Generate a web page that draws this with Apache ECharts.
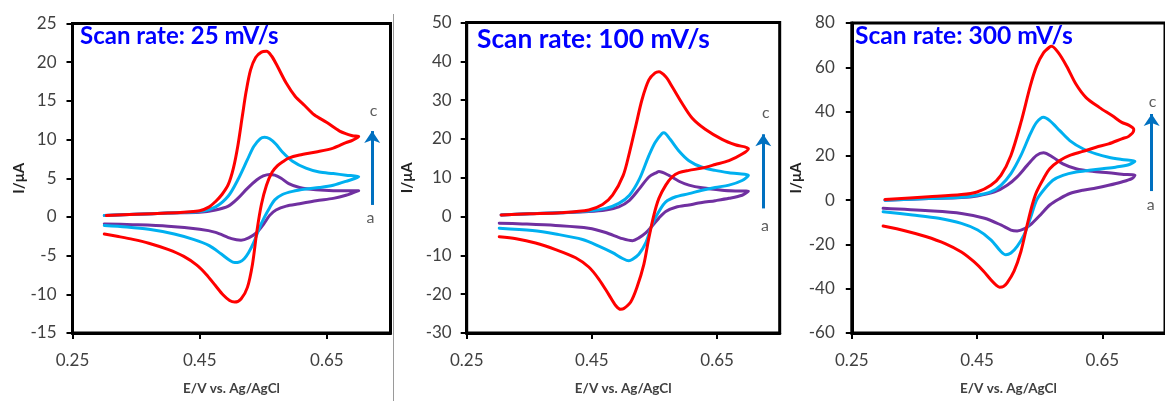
<!DOCTYPE html>
<html>
<head>
<meta charset="utf-8">
<script src="https://cdn.jsdelivr.net/npm/echarts@6/dist/echarts.min.js"></script>
<style>
  html, body { margin: 0; padding: 0; background: #fff; }
  #chart { width: 1165px; height: 401px; }
</style>
</head>
<body>
<div id="chart"></div>
<script>
// Cyclic voltammograms, [E (V vs. Ag/AgCl), I (uA)], forward sweep then reverse sweep.
// a = lowest concentration (purple), b = middle (cyan), c = highest (red).

// 25 mV/s
const cv25_a = [[0.30,0.2],[0.35,0.35],[0.40,0.5],[0.45,0.6],[0.475,0.9],[0.495,1.4],[0.51,2.4],[0.525,3.7],[0.54,4.8],[0.55,5.3],[0.56,5.5],[0.568,5.4],[0.578,5.0],[0.59,4.3],[0.607,3.8],[0.633,3.5],[0.66,3.4],[0.70,3.4],
  [0.68,2.8],[0.66,2.4],[0.633,2.1],[0.607,1.7],[0.586,1.4],[0.57,0.9],[0.56,0.2],[0.55,-1.0],[0.54,-2.0],[0.527,-2.7],[0.515,-3.0],[0.50,-2.8],[0.475,-2.0],[0.45,-1.6],[0.40,-1.2],[0.345,-1.0],[0.30,-0.9]];
const cv25_b = [[0.30,0.2],[0.35,0.35],[0.40,0.5],[0.45,0.7],[0.475,1.3],[0.495,2.7],[0.51,4.8],[0.525,7.4],[0.535,9.1],[0.545,10.1],[0.552,10.3],[0.56,10.1],[0.57,9.4],[0.58,8.4],[0.596,7.2],[0.617,6.3],[0.638,5.8],[0.66,5.6],[0.68,5.4],[0.70,5.2],
  [0.68,4.6],[0.66,4.1],[0.638,3.8],[0.617,3.6],[0.596,3.3],[0.58,2.9],[0.568,2.2],[0.56,1.2],[0.552,0.0],[0.543,-1.6],[0.535,-3.3],[0.527,-4.6],[0.52,-5.4],[0.513,-5.8],[0.505,-5.9],[0.497,-5.6],[0.484,-4.8],[0.465,-3.7],[0.44,-2.9],[0.41,-2.2],[0.37,-1.6],[0.335,-1.3],[0.30,-1.1]];
const cv25_c = [[0.303,0.2],[0.35,0.35],[0.40,0.5],[0.43,0.65],[0.45,0.8],[0.465,1.3],[0.475,2.0],[0.485,2.9],[0.495,4.2],[0.503,6.3],[0.51,9.2],[0.517,13.0],[0.523,16.2],[0.53,19.0],[0.538,20.6],[0.547,21.3],[0.555,21.4],[0.563,20.8],[0.572,19.5],[0.586,17.3],[0.60,15.6],[0.615,14.4],[0.63,13.2],[0.65,12.2],[0.67,11.1],[0.69,10.5],[0.70,10.4],
  [0.69,9.9],[0.68,9.6],[0.66,8.9],[0.633,8.4],[0.607,8.0],[0.59,7.6],[0.58,7.1],[0.572,6.6],[0.564,5.8],[0.555,4.1],[0.547,1.6],[0.54,-1.8],[0.533,-6.1],[0.525,-9.1],[0.515,-10.6],[0.505,-11.0],[0.497,-10.8],[0.487,-10.1],[0.475,-8.9],[0.46,-7.4],[0.445,-6.2],[0.425,-5.1],[0.40,-4.2],[0.37,-3.4],[0.345,-2.9],[0.32,-2.5],[0.30,-2.2]];

// 100 mV/s
const cv100_a = [[0.305,0.4],[0.35,0.7],[0.40,1.0],[0.445,1.3],[0.472,1.7],[0.493,2.5],[0.51,4.2],[0.526,7.2],[0.541,10.2],[0.554,11.4],[0.557,11.6],[0.573,10.6],[0.589,9.1],[0.605,8.1],[0.626,7.4],[0.658,6.8],[0.679,6.6],[0.70,6.5],
  [0.69,5.5],[0.669,4.7],[0.647,4.1],[0.626,3.6],[0.605,3.0],[0.584,2.4],[0.568,1.3],[0.557,-0.4],[0.546,-2.5],[0.536,-4.2],[0.525,-5.5],[0.515,-6.2],[0.499,-5.7],[0.472,-4.1],[0.445,-3.0],[0.392,-2.3],[0.339,-1.9],[0.302,-1.7]];
const cv100_b = [[0.305,0.4],[0.35,0.7],[0.40,1.0],[0.445,1.4],[0.472,2.1],[0.493,3.4],[0.51,5.5],[0.526,9.7],[0.541,15.7],[0.551,19.1],[0.562,21.4],[0.565,21.6],[0.575,19.9],[0.589,16.9],[0.605,14.4],[0.626,12.7],[0.647,11.9],[0.669,11.3],[0.70,10.6],
  [0.69,9.3],[0.669,8.1],[0.647,7.5],[0.626,6.8],[0.605,5.9],[0.584,5.1],[0.568,3.8],[0.557,1.3],[0.546,-2.1],[0.536,-6.8],[0.525,-9.7],[0.515,-11.0],[0.509,-11.4],[0.499,-10.8],[0.483,-9.3],[0.461,-7.6],[0.435,-5.9],[0.392,-4.5],[0.355,-3.6],[0.302,-3.0]];
const cv100_c = [[0.305,0.4],[0.35,0.7],[0.40,1.0],[0.445,1.7],[0.467,3.1],[0.483,5.5],[0.50,10.6],[0.51,16.5],[0.52,23.3],[0.53,30.1],[0.541,35.2],[0.551,37.0],[0.557,37.3],[0.568,36.0],[0.578,33.5],[0.594,29.2],[0.61,25.4],[0.631,22.5],[0.658,19.9],[0.679,18.5],[0.70,17.5],
  [0.69,16.1],[0.669,14.4],[0.647,13.4],[0.626,12.5],[0.605,11.9],[0.589,11.3],[0.578,10.2],[0.568,8.1],[0.557,4.7],[0.549,0.4],[0.541,-5.5],[0.533,-12.3],[0.522,-18.2],[0.512,-22.0],[0.501,-23.7],[0.496,-23.9],[0.488,-22.9],[0.477,-20.1],[0.461,-16.1],[0.445,-13.0],[0.424,-10.6],[0.392,-8.5],[0.36,-6.8],[0.329,-5.7],[0.302,-5.2]];

// 300 mV/s
const cv300_a = [[0.303,0.0],[0.373,0.7],[0.425,1.2],[0.45,1.9],[0.478,3.7],[0.498,6.7],[0.514,10.5],[0.53,15.7],[0.545,20.2],[0.556,21.4],[0.571,19.4],[0.587,16.4],[0.608,14.2],[0.634,13.0],[0.66,12.4],[0.681,11.7],[0.702,11.2],
  [0.697,9.7],[0.681,8.2],[0.66,6.7],[0.64,5.5],[0.619,4.5],[0.598,3.0],[0.582,0.7],[0.566,-2.2],[0.551,-6.7],[0.535,-11.2],[0.525,-13.0],[0.514,-13.9],[0.504,-13.5],[0.488,-11.2],[0.462,-8.2],[0.425,-6.0],[0.373,-4.8],[0.30,-3.7]];
const cv300_b = [[0.303,0.0],[0.373,0.7],[0.425,1.3],[0.45,2.2],[0.472,3.7],[0.488,6.7],[0.504,12.0],[0.52,20.2],[0.535,29.9],[0.545,35.1],[0.556,37.4],[0.566,35.9],[0.582,31.4],[0.598,26.9],[0.619,23.2],[0.64,20.9],[0.66,19.4],[0.681,18.4],[0.702,17.6],
  [0.692,16.0],[0.671,14.9],[0.65,14.2],[0.629,13.5],[0.608,12.7],[0.587,11.2],[0.571,9.0],[0.556,4.5],[0.545,0.0],[0.535,-8.2],[0.525,-15.7],[0.514,-20.9],[0.504,-23.9],[0.496,-24.7],[0.488,-23.2],[0.472,-17.9],[0.451,-13.5],[0.425,-10.5],[0.389,-8.2],[0.347,-6.7],[0.30,-5.2]];
const cv300_c = [[0.303,0.3],[0.373,1.5],[0.425,2.5],[0.45,3.7],[0.472,6.7],[0.488,11.2],[0.504,20.2],[0.52,35.1],[0.535,51.6],[0.545,60.5],[0.556,66.5],[0.566,69.2],[0.569,69.5],[0.58,66.5],[0.593,60.5],[0.608,52.3],[0.624,46.3],[0.645,41.9],[0.666,38.1],[0.681,35.1],[0.692,33.9],[0.70,32.1],
  [0.70,31.4],[0.692,28.8],[0.681,27.7],[0.66,25.4],[0.64,23.9],[0.619,22.0],[0.598,20.2],[0.582,17.9],[0.566,14.2],[0.556,9.7],[0.545,3.7],[0.538,-2.2],[0.53,-11.2],[0.52,-23.2],[0.509,-32.1],[0.498,-37.4],[0.492,-39.0],[0.486,-39.3],[0.48,-38.3],[0.472,-36.0],[0.46,-32.0],[0.445,-27.8],[0.425,-23.4],[0.399,-19.6],[0.368,-16.4],[0.336,-13.9],[0.30,-11.7]];

// Axis ticks
const potentialTicks = [0.25, 0.45, 0.65];
const scanRates = ['25', '100', '300'];
const currentRanges = [[-15, 25, 5], [-30, 50, 10], [-60, 80, 20]];

const loopColors = ['#7030A0', '#00B0F0', '#FF0000'];
const textGrey = '#404040';

const panels = [
  { loops: [cv25_a, cv25_b, cv25_c], grid: { left: 72.5, top: 23.5, width: 318, height: 313 },
    yGap: 46, labelMargin: 16, title: { left: 80, top: 23.5, size: 24 },
    arrow: [[0.7212, 1.55], [0.7212, 11.1]], tagC: [0.7232, 13.7], tagA: [0.7185, -0.1] },
  { loops: [cv100_a, cv100_b, cv100_c], grid: { left: 466.7, top: 22.5, width: 313, height: 313 },
    yGap: 52, labelMargin: 15, title: { left: 477, top: 27, size: 26.3 },
    arrow: [[0.7238, 2.1], [0.7238, 21.2]], tagC: [0.7277, 26.6], tagA: [0.7265, -2.3] },
  { loops: [cv300_a, cv300_b, cv300_c], grid: { left: 851.8, top: 23, width: 318.5, height: 313.5 },
    yGap: 48, labelMargin: 17, title: { left: 855, top: 23.5, size: 24.6 },
    arrow: [[0.7287, 4.1], [0.7287, 38.9]], tagC: [0.7302, 44.3], tagA: [0.7271, -2.2] }
];

const option = {
  animation: false,
  backgroundColor: '#fff',
  title: [], grid: [], xAxis: [], yAxis: [], series: [],
  graphic: [{
    type: 'line', silent: true,
    shape: { x1: 393.5, y1: 14, x2: 393.5, y2: 401 },
    style: { stroke: '#9a9a9a', lineWidth: 1 }
  }]
};

panels.forEach((p, i) => {
  const [yMin, yMax, yStep] = currentRanges[i];
  option.title.push({
    text: 'Scan rate: ' + scanRates[i] + ' mV/s',
    left: p.title.left, top: p.title.top, padding: 0,
    textStyle: { color: '#0000FF', fontFamily: 'Lato', fontWeight: 'bold', fontSize: p.title.size, lineHeight: 26 }
  });
  option.grid.push(Object.assign({ show: true, borderColor: '#000', borderWidth: 3, backgroundColor: 'transparent' }, p.grid));
  option.xAxis.push({
    type: 'value', gridIndex: i, min: 0.25, max: 0.75, interval: 0.2,
    name: 'E/V vs. Ag/AgCl', nameLocation: 'middle', nameGap: 49,
    nameTextStyle: { fontFamily: 'Lato', fontWeight: 'bold', fontSize: 13.5, color: textGrey },
    axisLine: { show: true, onZero: false, lineStyle: { color: '#000', width: 3 } },
    axisTick: { show: true, inside: false, length: 6, customValues: potentialTicks, lineStyle: { color: '#000', width: 2 } },
    axisLabel: { customValues: potentialTicks, margin: 19, fontFamily: 'Lato', fontSize: 17, color: textGrey,
      formatter: v => v.toFixed(2) },
    splitLine: { show: false }
  });
  option.yAxis.push({
    type: 'value', gridIndex: i, min: yMin, max: yMax, interval: yStep,
    name: 'I/\u03bcA', nameLocation: 'middle', nameGap: p.yGap,
    nameTextStyle: { fontFamily: 'Lato', fontWeight: 'bold', fontSize: 15, color: '#222' },
    axisLine: { show: true, onZero: false, lineStyle: { color: '#000', width: 3 } },
    axisTick: { show: true, inside: false, length: 6, lineStyle: { color: '#000', width: 2 } },
    axisLabel: { margin: p.labelMargin, fontFamily: 'Lato', fontSize: 17, color: textGrey },
    splitLine: { show: false }
  });
  p.loops.forEach((loop, k) => {
    const s = {
      type: 'line', xAxisIndex: i, yAxisIndex: i, data: loop,
      showSymbol: false, symbol: 'none', smooth: 0.3,
      lineStyle: { color: loopColors[k], width: 3, cap: 'round', join: 'round' },
      z: 2 + k
    };
    if (k === 2) {
      s.markLine = {
        silent: true, symbol: ['none', 'arrow'], symbolSize: [12, 12],
        label: { show: false },
        lineStyle: { color: '#0070C0', width: 3, type: 'solid' },
        data: [[{ coord: p.arrow[0] }, { coord: p.arrow[1] }]]
      };
    }
    option.series.push(s);
  });
  option.series.push({
    type: 'scatter', xAxisIndex: i, yAxisIndex: i, symbolSize: 0, silent: true,
    label: { show: true, position: 'inside', formatter: '{b}', fontFamily: 'Lato', fontSize: 16, color: '#333' },
    data: [{ name: 'c', value: p.tagC }, { name: 'a', value: p.tagA }]
  });
});

const chart = echarts.init(document.getElementById('chart'), null, { renderer: 'canvas' });
chart.setOption(option);
</script>
</body>
</html>
